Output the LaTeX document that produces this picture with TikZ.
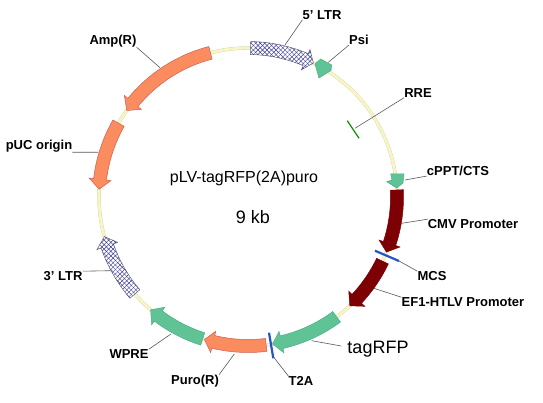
\documentclass[tikz,border=0pt]{standalone}
\usepackage{fontspec}
\setmainfont{Liberation Sans}
\usetikzlibrary{patterns.meta,calc}
\definecolor{bbone}{RGB}{247,245,195}
\definecolor{salmon}{RGB}{250,140,95}
\definecolor{salmonln}{RGB}{205,95,85}
\definecolor{mint}{RGB}{95,195,150}
\definecolor{mintln}{RGB}{75,175,135}
\definecolor{maroon}{RGB}{125,0,5}
\definecolor{hatchln}{RGB}{60,60,150}
\definecolor{cutblue}{RGB}{35,85,200}
\tikzset{
  lbl/.style={font=\fontsize{13}{15}\selectfont\bfseries,inner sep=0pt},
  biglbl/.style={font=\fontsize{18}{20}\selectfont,inner sep=0pt},
  lead/.style={draw=black!65,line width=0.6pt},
  ampblk/.style={fill=salmon,draw=salmonln,line width=0.5pt},
  grnblk/.style={fill=mint,draw=mintln,line width=0.5pt},
  marblk/.style={fill=maroon,draw=maroon,line width=0.5pt},
  ltrblk/.style={fill=white,draw=black!60,line width=0.5pt,
    postaction={pattern={Lines[angle=45,distance=3.2pt,line width=0.45pt]},pattern color=hatchln},
    postaction={pattern={Lines[angle=-45,distance=3.2pt,line width=0.45pt]},pattern color=hatchln}},
  cutline/.style={draw=cutblue,line width=2.2pt},
  rreline/.style={draw=green!55!black,line width=1.2pt}
}
% arc arrow on the ring: style, start angle, neck angle, tip angle
\newcommand{\arcarrow}[4]{
  \path[#1] ($(cen)+(#2:142.5)$) arc[start angle=#2,end angle=#3,radius=142.5]
    -- ($(cen)+(#3:138)$) -- ($(cen)+(#4:149)$) -- ($(cen)+(#3:160)$) -- ($(cen)+(#3:155.5)$)
    arc[start angle=#3,end angle=#2,radius=155.5] -- cycle;
}
\begin{document}
\begin{tikzpicture}[x=1pt,y=-1pt]
  \useasboundingbox (0,0) rectangle (543,403);
  \coordinate (cen) at (248,197);
  \draw[bbone!85!black,line width=3.4pt] (cen) circle[radius=149];
  \draw[bbone,line width=2.8pt] (cen) circle[radius=149];

  \arcarrow{ltrblk}{-89}{-67.2}{-64}
  \arcarrow{ampblk}{255.4}{219.4}{215.5}
  \arcarrow{ampblk}{209.7}{186.8}{183}
  \arcarrow{ltrblk}{139.4}{160.8}{164.6}
  \arcarrow{grnblk}{107.7}{127}{130.8}
  \arcarrow{ampblk}{83}{103.5}{107}
  \arcarrow{grnblk}{53.5}{77}{80.5}
  \arcarrow{marblk}{25.5}{43.1}{46.9}
  \arcarrow{marblk}{-2.7}{18.2}{21.7}

  % small features
  \path[grnblk] (320.7,59) -- (331.7,65) -- (331,70.5) -- (319,78) -- (315,64) -- cycle;
  \path[grnblk] (390.7,174) -- (404,174) -- (403,183) -- (396.7,188) -- (386.7,181.7) -- (392,180) -- cycle;

  \coordinate (rreA) at (347.3,120.7);
  \coordinate (rreB) at (359,138.3);
  \coordinate (mcsA) at (375,250.7);
  \coordinate (mcsB) at (399,261);
  \coordinate (t2aA) at (269,332.7);
  \coordinate (t2aB) at (273.3,358.3);
  \draw[rreline] (rreA) -- (rreB);
  \draw[cutline] (mcsA) -- (mcsB);
  \draw[cutline] (t2aA) -- (t2aB);

  % leader ends on the ring
  \coordinate (ltrP) at (285,45);
  \coordinate (psiP) at (328.3,62.3);
  \coordinate (rreP) at (355,128.3);
  \coordinate (cpptP) at (405,180);
  \coordinate (cmvP) at (401.7,223.3);
  \coordinate (efP) at (374,288.3);
  \coordinate (rfpP) at (311.7,340.7);
  \coordinate (t2aP) at (273.3,356.7);
  \coordinate (puroP) at (234.3,354);
  \coordinate (wpreP) at (171,334);
  \coordinate (ltrbP) at (110.7,270.7);
  \coordinate (pucP) at (98.3,152.3);
  \coordinate (ampP) at (160,67.7);

  \node[lbl] (ltrtxt) at (322,15) {5' LTR};
  \node[lbl] (psitxt) at (359,40) {Psi};
  \node[lbl] (rretxt) at (418,93) {RRE};
  \node[lbl] (cppttxt) at (458,171) {cPPT/CTS};
  \node[lbl] (cmvtxt) at (473,224) {CMV Promoter};
  \node[lbl] (mcstxt) at (432,276) {MCS};
  \node[lbl] (eftxt) at (463,302) {EF1-HTLV Promoter};
  \node[biglbl] (rfptxt) at (378,349) {tagRFP};
  \node[lbl] (t2atxt) at (301,381) {T2A};
  \node[lbl] (purotxt) at (195,381) {Puro(R)};
  \node[lbl] (wpretxt) at (129,354) {WPRE};
  \node[lbl] (ltrbtxt) at (63,276) {3' LTR};
  \node[lbl] (puctxt) at (39,146) {pUC origin};
  \node[lbl] (amptxt) at (113,41) {Amp(R)};
  \node[biglbl,font=\fontsize{16}{18}\selectfont] (title) at (244,178) {pLV-tagRFP(2A)puro};
  \node[biglbl] (size) at (253,217) {9 kb};

  \draw[lead] (ltrtxt.south west) -- (ltrP);
  \draw[lead] (psitxt.south west) -- (psiP);
  \draw[lead] (rretxt.south west) -- (rreP);
  \draw[lead] (cppttxt.south west) -- (cpptP);
  \draw[lead] (cmvtxt.north west) -- (cmvP);
  \draw[lead] (mcstxt.north west) -- (mcsB);
  \draw[lead] (eftxt.north west) -- (efP);
  \draw[lead] ([shift={(-6,-3)}]rfptxt.west) -- (rfpP);
  \draw[lead] (t2atxt.north west) -- (t2aP);
  \draw[lead] (purotxt.north east) -- (puroP);
  \draw[lead] (wpretxt.north east) -- (wpreP);
  \draw[lead] (ltrbtxt.north east) -- (ltrbP);
  \draw[lead] (puctxt.south east) -- (pucP);
  \draw[lead] (amptxt.south east) -- (ampP);
\end{tikzpicture}
\end{document}
